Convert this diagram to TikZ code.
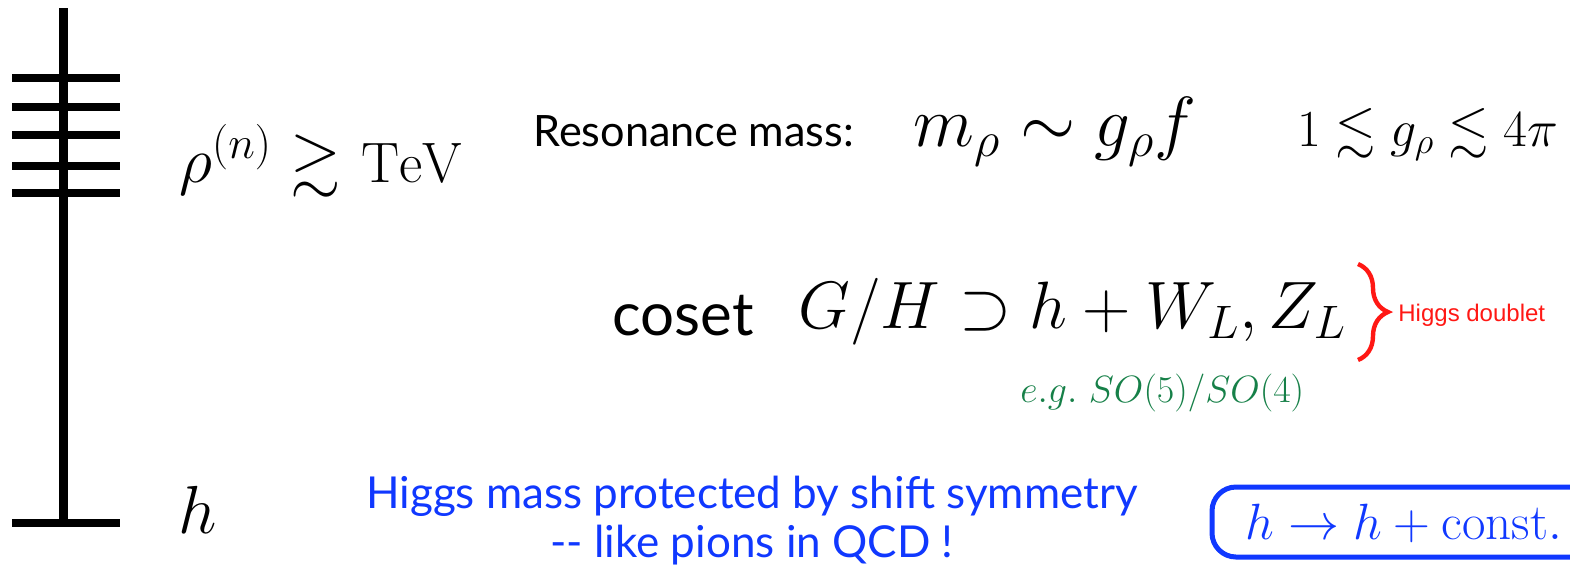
\RequirePackage{fix-cm}
\documentclass[tikz,border=0pt]{standalone}
\usepackage{amsmath, amssymb}
\DeclareFontFamily{U}{msa}{}
\DeclareFontShape{U}{msa}{m}{n}{<-6>msam5<6-8>msam7<8->msam10}{}
\usepackage{fontspec}
\setsansfont{Lato}
\newfontfamily\helvfont{Liberation Sans}
\usepackage{tikz}
\usetikzlibrary{positioning, decorations.pathreplacing}
\usepackage{xcolor}
\definecolor{slideblue}{RGB}{16,56,255}
\definecolor{slidegreen}{RGB}{22,128,72}
\definecolor{slidered}{RGB}{255,24,20}

\begin{document}
\begin{tikzpicture}[x=0.5pt, y=-0.5pt,
  txt/.style={anchor=base west, inner sep=0pt},
  sz/.style={font=\fontsize{#1}{#1}\selectfont},
  ssz/.style={font=\sffamily\fontsize{#1}{#1}\selectfont},
  rung/.style={line width=4pt},
  hframe/.style={draw=slideblue, line width=2.5pt, rounded corners=12pt}]
  \useasboundingbox (0,0) rectangle (1570,570);

  % spectrum
  \draw[line width=4.5pt] (63,8) -- (63,527);
  \foreach \y in {78,107,135,166,193,523}
    \draw[rung] (12,\y) -- (120,\y);
  \node[txt, sz=32.5] (rho) at (179,182) {$\rho^{(n)}\gtrsim$};
  \node[txt, sz=28.5] (tev) at ([xshift=10pt]rho.base east) {$\mathrm{TeV}$};
  \node[txt, sz=34] (h) at (178,533) {$h$};

  % resonances
  \node[txt, ssz=21.6] (res) at (533,146) {Resonance mass:};
  \node[txt, sz=35.5] (mrho) at (913,146) {$m_\rho\sim g_\rho f$};
  \node[txt, sz=26] (grho) at (1297,146) {$1\lesssim g_\rho\lesssim 4\pi$};

  % coset
  \node[txt, ssz=30] (coset) at (612,335) {coset};
  \node[txt, sz=33.5] (gh) at (798,328) {$G/H\supset h+W_L,Z_L$};
  \draw[slidered, line width=2.2pt, decorate, decoration={brace, amplitude=15pt}]
    (1358,264) -- (1358,360);
  \node[txt, text=slidered, font=\helvfont\fontsize{12}{12}\selectfont] (dbl) at (1398,321) {Higgs doublet};
  \node[txt, sz=19, text=slidegreen] (eg) at (1020,402) {$e.g.\ SO(5)/SO(4)$};

  % shift symmetry
  \node[anchor=base, inner sep=0pt, ssz=22, text=slideblue] (prot) at (752,508)
    {Higgs mass protected by shift symmetry};
  \node[anchor=base, inner sep=0pt, ssz=22, text=slideblue] (pions)
    at ([yshift=-24.5pt]prot.base) {{-}{-} like pions in QCD !};
  \node[txt, sz=25.5, text=slideblue] (shift) at (1245,539) {$h\to h+\mathrm{const.}$};
  \draw[hframe] (1212,487) rectangle (1640,557);
\end{tikzpicture}
\end{document}
